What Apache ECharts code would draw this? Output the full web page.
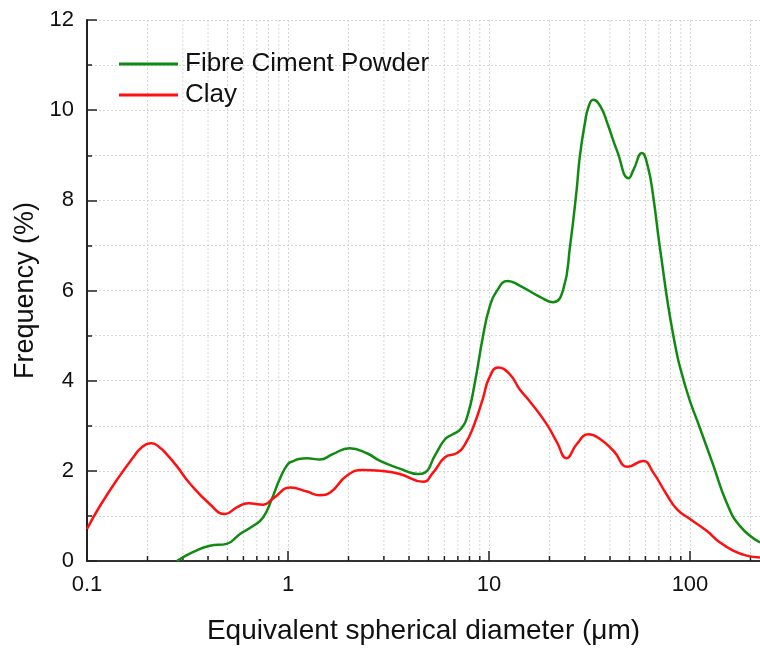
<!DOCTYPE html>
<html>
<head>
<meta charset="utf-8">
<script src="https://cdn.jsdelivr.net/npm/echarts@6/dist/echarts.min.js"></script>
<style>html,body{margin:0;padding:0;background:#fff}#c{width:760px;height:650px}</style>
</head>
<body>
<div id="c"></div>
<script>
// Fibre Ciment Powder
const fibreX = [0.28, 0.338, 0.409, 0.495, 0.577, 0.672, 0.753, 0.83, 0.91, 1.0, 1.07, 1.15, 1.24, 1.44, 1.67, 2.02, 2.47, 2.87, 3.6, 4.43, 4.8, 5.37, 6.04, 6.6, 7.27, 7.85, 8.5, 9.35, 10.05, 10.9, 12.4, 14.2, 17.9, 20.8, 23.4, 25.3, 27.3, 28.3, 30.0, 31.3, 33.0, 35.9, 38.8, 43.5, 49.5, 52.4, 57.6, 61.7, 65.6, 70.7, 82.7, 95.8, 112, 130, 152, 177, 223];
const fibreY = [0.0, 0.2, 0.34, 0.38, 0.6, 0.78, 0.97, 1.37, 1.82, 2.15, 2.22, 2.27, 2.28, 2.25, 2.37, 2.5, 2.39, 2.22, 2.05, 1.93, 1.96, 2.33, 2.7, 2.81, 2.94, 3.25, 3.95, 5.0, 5.62, 5.98, 6.21, 6.11, 5.86, 5.74, 6.02, 6.98, 8.24, 8.97, 9.71, 10.08, 10.23, 10.08, 9.71, 9.08, 8.49, 8.68, 9.05, 8.75, 8.09, 6.98, 4.99, 3.81, 2.95, 2.15, 1.3, 0.78, 0.41];
// Clay
const clayX = [0.1, 0.116, 0.146, 0.17, 0.187, 0.21, 0.23, 0.249, 0.279, 0.325, 0.409, 0.486, 0.556, 0.634, 0.753, 0.845, 1.03, 1.24, 1.44, 1.62, 1.96, 2.36, 2.87, 3.6, 4.7, 5.27, 6.04, 6.9, 7.6, 8.4, 9.35, 10.0, 11.1, 12.7, 14.2, 15.9, 19.4, 21.8, 24.3, 27.3, 31.3, 35.8, 41.7, 49.1, 58.4, 65.7, 76.4, 86, 100, 121, 141, 164, 191, 223];
const clayY = [0.71, 1.22, 1.9, 2.3, 2.52, 2.61, 2.52, 2.37, 2.11, 1.72, 1.26, 1.04, 1.19, 1.28, 1.25, 1.39, 1.63, 1.54, 1.46, 1.52, 1.89, 2.02, 2.0, 1.93, 1.76, 1.96, 2.3, 2.39, 2.59, 3.0, 3.62, 4.05, 4.29, 4.14, 3.81, 3.55, 3.03, 2.63, 2.28, 2.59, 2.81, 2.7, 2.44, 2.09, 2.22, 1.96, 1.48, 1.15, 0.93, 0.67, 0.41, 0.23, 0.12, 0.08];
// minor log positions (grid lines + small ticks)
const minorX = [0.2,0.3,0.4,0.5,0.6,0.7,0.8,0.9,2,3,4,5,6,7,8,9,20,30,40,50,60,70,80,90,200];
const xMin = 0.1, xMax = 223, yMin = 0, yMax = 12;
const seriesNames = ['Fibre Ciment Powder', 'Clay'];

const zip = (xs, ys) => xs.map((x, i) => [x, ys[i]]);
const FONT = '"Liberation Sans", Arial, sans-serif';
const gridDash = {color: '#d6d6d6', type: [2, 2], width: 1};

const chart = echarts.init(document.getElementById('c'), null, {renderer: 'canvas'});
chart.setOption({
  animation: false,
  backgroundColor: '#fff',
  textStyle: {fontFamily: FONT},
  grid: {left: 87, right: 0, top: 20, bottom: 88, containLabel: false},
  legend: {
    orient: 'vertical', left: 119, top: 51, padding: 0, itemWidth: 59, itemHeight: 3, itemGap: 5,
    icon: 'rect',
    textStyle: {fontSize: 26, color: '#111', fontFamily: FONT, padding: [0, 0, 0, 2]},
    data: seriesNames
  },
  xAxis: [{
    type: 'log', logBase: 10, min: xMin, max: xMax,
    name: 'Equivalent spherical diameter (\u03bcm)', nameLocation: 'middle', nameGap: 56,
    nameTextStyle: {fontSize: 28, color: '#111', fontFamily: FONT},
    axisLine: {show: true, onZero: false, lineStyle: {color: '#222', width: 2}},
    axisTick: {show: true, inside: true, length: 10, lineStyle: {color: '#222', width: 1.5}},
    axisLabel: {fontSize: 22, color: '#111', margin: 13, showMaxLabel: false, fontFamily: FONT,
      formatter: v => String(v)},
    splitLine: {show: true, lineStyle: gridDash},
    minorTick: {show: false}
  }, {
    type: 'log', logBase: 10, min: xMin, max: xMax, position: 'top',
    axisLine: {show: true, lineStyle: {color: '#333', width: 2}},
    axisTick: {show: false}, axisLabel: {show: false}, splitLine: {show: false}
  }],
  yAxis: {
    type: 'value', min: yMin, max: yMax, interval: 2,
    name: 'Frequency (%)', nameLocation: 'middle', nameGap: 42,
    nameTextStyle: {fontSize: 27, color: '#111', fontFamily: FONT},
    axisLine: {show: true, lineStyle: {color: '#222', width: 2}},
    axisTick: {show: true, inside: true, length: 10, lineStyle: {color: '#222', width: 1.5}},
    minorTick: {show: true, splitNumber: 2, length: 5, lineStyle: {color: '#222', width: 1.5}},
    minorSplitLine: {show: true, lineStyle: gridDash},
    axisLabel: {fontSize: 22, color: '#111', margin: 13, fontFamily: FONT},
    splitLine: {show: true, lineStyle: gridDash}
  },
  series: [
    {
      type: 'custom', name: 'minorGrid', xAxisIndex: 0, silent: true, z: 1,
      data: minorX.map(v => [v, 0]),
      encode: {x: 0, y: 1},
      renderItem: (params, api) => {
        const p = api.coord([api.value(0), 0]);
        const cs = params.coordSys;
        return {type: 'group', children: [
          {type: 'line', shape: {x1: p[0], y1: cs.y, x2: p[0], y2: cs.y + cs.height},
           style: {stroke: '#d6d6d6', lineWidth: 1, lineDash: [2, 2]}},
          {type: 'line', shape: {x1: p[0], y1: cs.y + cs.height, x2: p[0], y2: cs.y + cs.height - 5},
           style: {stroke: '#222', lineWidth: 1.5}}
        ]};
      }
    },
    {
      type: 'line', name: seriesNames[0], data: zip(fibreX, fibreY), smooth: 0.5,
      symbol: 'none', z: 3, color: '#118a11',
      lineStyle: {color: '#118a11', width: 2.5}
    },
    {
      type: 'line', name: seriesNames[1], data: zip(clayX, clayY), smooth: 0.5,
      symbol: 'none', z: 4, color: '#ff1010',
      lineStyle: {color: '#ff1010', width: 2.5}
    }
  ]
});
</script>
</body>
</html>
